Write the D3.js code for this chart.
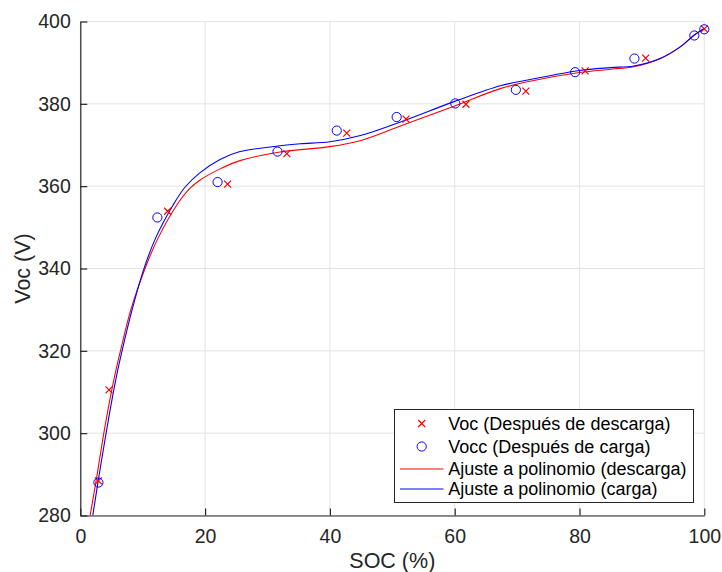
<!DOCTYPE html>
<html>
<head>
<meta charset="utf-8">
<script src="https://cdn.jsdelivr.net/npm/d3@7"></script>
<style>
  body { margin: 0; background: #fff; }
  svg { display: block; font-family: "Liberation Sans", Arial, Helvetica, sans-serif; }
</style>
</head>
<body>
<div id="chart"></div>
<script>
// medidas (puntos)
const socDescarga = [2.9, 4.6, 14.0, 23.6, 33.1, 42.7, 52.2, 61.8, 71.4, 80.9, 90.6, 100];
const vocDescarga = [288.4, 310.5, 353.9, 360.5, 367.9, 372.9, 376.3, 379.9, 383.1, 388.0, 391.1, 398.2];
const socCarga = [2.9, 12.35, 22.0, 31.6, 41.1, 50.7, 60.1, 69.8, 79.3, 88.8, 98.4, 100];
const vocCarga = [288.0, 352.4, 361.0, 368.4, 373.5, 376.8, 380.1, 383.4, 387.7, 391.0, 396.6, 398.1];

// curvas de ajuste
const fitSocDescarga = [1.57, 2.6, 3.6, 4.6, 5.6, 6.6, 8.1, 10.5, 12.5, 15.5, 17.6, 19.2, 22.4, 25.6, 32, 40, 45, 51.3, 60, 67.3, 72.1, 80, 85, 88.7, 93, 96.2, 98.3, 100];
const fitVocDescarga = [280, 289, 298.5, 307, 314.5, 321, 330, 340.5, 347.5, 355.5, 359.5, 361.5, 364.2, 366.2, 368.3, 369.6, 371.1, 374.6, 379.5, 383.7, 385.5, 387.6, 388.4, 389.0, 391.0, 393.9, 396.6, 398.3];
const fitSocCarga = [2.0, 2.9, 4.0, 5.0, 6.0, 7.0, 8.13, 10.1, 12.1, 14.9, 16.8, 19.2, 22.4, 25.6, 32, 35.3, 40, 44.9, 51.3, 60, 67.3, 72.1, 80, 85, 88.7, 93, 96.2, 98.3, 100];
const fitVocCarga = [280, 288.7, 298.8, 307.5, 315.3, 322, 329, 339.5, 347.5, 355.5, 359.8, 363.3, 366.5, 368.4, 369.8, 370.3, 370.8, 372.3, 375.6, 380.6, 384.4, 385.9, 388.1, 388.8, 389.2, 391.1, 393.9, 396.6, 398.3];

const xTicks = [0, 20, 40, 60, 80, 100];
const yTicks = [280, 300, 320, 340, 360, 380, 400];

const legendLabels = [
    "Voc (Después de descarga)",
    "Vocc (Después de carga)",
    "Ajuste a polinomio (descarga)",
    "Ajuste a polinomio (carga)"
];

const width = 722, height = 572;
const axisColor = "#262626";

const svg = d3.select("#chart").append("svg")
    .attr("width", width)
    .attr("height", height);

const x = d3.scaleLinear().domain([0, 100]).range([80.3, 704.3]);
const y = d3.scaleLinear().domain([280, 400]).range([515.5, 21.5]);

/** grid lines */
function drawGrid(g) {
    g.append("g")
        .selectAll("line")
        .data(xTicks)
        .enter()
        .append("line")
        .attr("x1", d => x(d)).attr("x2", d => x(d))
        .attr("y1", y(280)).attr("y2", y(400))
        .attr("stroke", "#e3e3e3")
        .attr("stroke-width", 1)

    g.append("g")
        .selectAll("line")
        .data(yTicks)
        .enter()
        .append("line")
        .attr("x1", x(0)).attr("x2", x(100))
        .attr("y1", d => y(d)).attr("y2", d => y(d))
        .attr("stroke", "#e3e3e3")
        .attr("stroke-width", 1)
}

/** axes with inward ticks */
function drawAxes(g) {
    let ax = g.append("g")
        .attr("transform", `translate(0,${y(280)})`)
        .call(d3.axisBottom(x).tickValues(xTicks).tickSizeInner(-7).tickSizeOuter(0).tickPadding(14))
    let ay = g.append("g")
        .attr("transform", `translate(${x(0)},0)`)
        .call(d3.axisLeft(y).tickValues(yTicks).tickSizeInner(-7).tickSizeOuter(0).tickPadding(9.5))

    for (let a of [ax, ay]) {
        a.select(".domain").attr("stroke", axisColor).attr("stroke-width", 1.2)
        a.selectAll(".tick line").attr("stroke", axisColor).attr("stroke-width", 1.2)
        a.selectAll(".tick text")
            .attr("fill", axisColor)
            .style("font-size", "19.5px")
            .style("font-family", "'Liberation Sans', Arial, Helvetica, sans-serif")
    }

    g.append("text")
        .attr("x", (x(0) + x(100)) / 2)
        .attr("y", 568.3)
        .attr("text-anchor", "middle")
        .attr("fill", axisColor)
        .style("font-size", "21.5px")
        .text("SOC (%)")

    g.append("text")
        .attr("transform", `translate(29.5,${(y(280) + y(400)) / 2}) rotate(-90)`)
        .attr("text-anchor", "middle")
        .attr("fill", axisColor)
        .style("font-size", "21.5px")
        .text("Voc (V)")
}

function drawFit(g, xs, ys, color) {
    let pts = xs.map((d, i) => [d, ys[i]])
    g.append("path")
        .datum(pts)
        .attr("fill", "none")
        .attr("stroke", color)
        .attr("stroke-width", 1.1)
        .attr("d", d3.line()
            .x(d => x(d[0]))
            .y(d => y(d[1]))
            .curve(d3.curveCatmullRom.alpha(0.5))
        )
}

function crossPath(cx, cy, s) {
    return `M${cx - s},${cy - s}L${cx + s},${cy + s}M${cx - s},${cy + s}L${cx + s},${cy - s}`
}

function drawCrosses(g, xs, ys) {
    g.append("g")
        .selectAll("path")
        .data(xs.map((d, i) => [d, ys[i]]))
        .enter()
        .append("path")
        .attr("d", d => crossPath(x(d[0]), y(d[1]), 3.5))
        .attr("stroke", "#ff0000")
        .attr("stroke-width", 1.2)
        .attr("fill", "none")
}

function drawCircles(g, xs, ys) {
    g.append("g")
        .selectAll("circle")
        .data(xs.map((d, i) => [d, ys[i]]))
        .enter()
        .append("circle")
        .attr("cx", d => x(d[0]))
        .attr("cy", d => y(d[1]))
        .attr("r", 4.6)
        .attr("fill", "none")
        .attr("stroke", "#0000ff")
        .attr("stroke-width", 1)
}

function drawLegend(g) {
    let lg = g.append("g")
    lg.append("rect")
        .attr("x", 394.5).attr("y", 409.5)
        .attr("width", 299).attr("height", 93)
        .attr("fill", "#fff")
        .attr("stroke", axisColor)
        .attr("stroke-width", 1)

    let rows = [423.5, 446.5, 469, 489]
    let mx = 421.7
    lg.append("path")
        .attr("d", crossPath(mx, rows[0], 3.5))
        .attr("stroke", "#ff0000").attr("stroke-width", 1.2)
    lg.append("circle")
        .attr("cx", mx).attr("cy", rows[1]).attr("r", 4.6)
        .attr("fill", "none").attr("stroke", "#0000ff")
    lg.append("line")
        .attr("x1", 400).attr("x2", 443.5)
        .attr("y1", rows[2]).attr("y2", rows[2])
        .attr("stroke", "#ff0000").attr("stroke-width", 1.1)
    lg.append("line")
        .attr("x1", 400).attr("x2", 443.5)
        .attr("y1", rows[3]).attr("y2", rows[3])
        .attr("stroke", "#0000ff").attr("stroke-width", 1.1)

    lg.selectAll("text.leg")
        .data(legendLabels)
        .enter()
        .append("text")
        .attr("class", "leg")
        .attr("x", 448.3)
        .attr("y", (d, i) => rows[i])
        .attr("dy", "0.35em")
        .attr("fill", "#000")
        .style("font-size", "18px")
        .text(d => d)
}

svg.append("defs").append("clipPath")
    .attr("id", "plot-clip")
    .append("rect")
    .attr("x", x(0)).attr("y", y(400) - 6)
    .attr("width", x(100) - x(0) + 6).attr("height", y(280) - y(400) + 6)

drawGrid(svg)
drawAxes(svg)

let plot = svg.append("g").attr("clip-path", "url(#plot-clip)")
drawFit(plot, fitSocDescarga, fitVocDescarga, "#ff0000")
drawFit(plot, fitSocCarga, fitVocCarga, "#0000ff")
drawCrosses(plot, socDescarga, vocDescarga)
drawCircles(plot, socCarga, vocCarga)

drawLegend(svg)
</script>
</body>
</html>
